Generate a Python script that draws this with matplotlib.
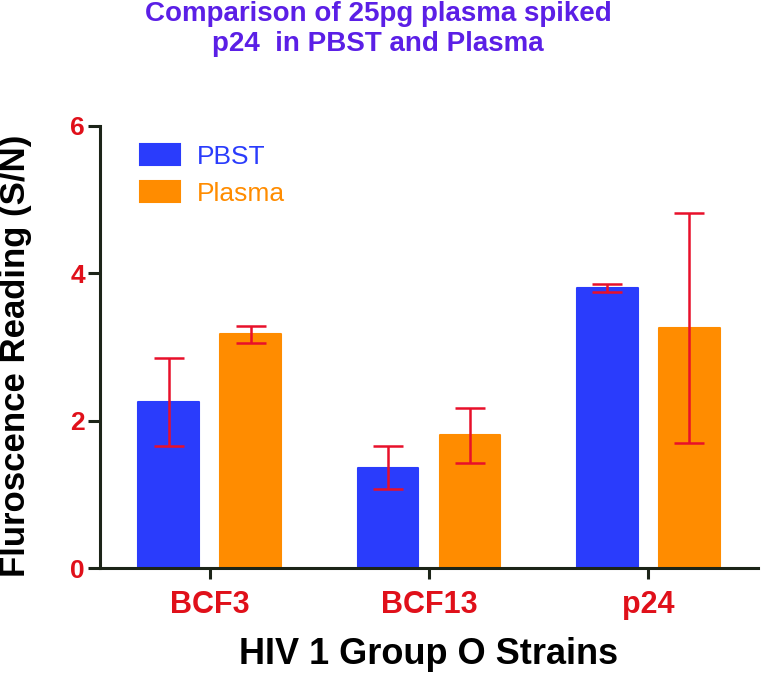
import numpy as np
import matplotlib.pyplot as plt

plt.rcParams['font.family'] = ['Liberation Sans', 'DejaVu Sans']

# data
strains = ['BCF3', 'BCF13', 'p24']
pbst_mean = [2.25, 1.36, 3.80]
pbst_err = [0.60, 0.29, 0.06]
plasma_mean = [3.17, 1.80, 3.26]
plasma_err = [0.11, 0.37, 1.56]

blue = '#2a3cfc'
orange = '#ff8c00'
red = '#e8102a'
axis_col = '#1c2418'

fig = plt.figure(figsize=(7.64, 6.73), dpi=100)
ax = fig.add_axes([0.131, 0.156, 0.861, 0.657])

x = np.arange(len(strains))
w = 0.277
off = 0.187

ekw = dict(ecolor=red, elinewidth=1.8, capsize=10.5, capthick=1.8)
ax.bar(x - off, pbst_mean, w, color=blue, edgecolor=blue, linewidth=1.5,
       joinstyle='round', label='PBST')
ax.bar(x + off, plasma_mean, w, color=orange, edgecolor=orange, linewidth=1.5,
       joinstyle='round', label='Plasma')
ax.errorbar(x - off, pbst_mean, yerr=pbst_err, fmt='none', **ekw)
ax.errorbar(x + off, plasma_mean, yerr=plasma_err, fmt='none', **ekw)

ax.set_xlim(-0.5, 2.5)
ax.set_ylim(0, 6)
ax.set_yticks([0, 2, 4, 6])
ax.set_xticks(x)
ax.set_xticklabels(strains)

for s in ['top', 'right']:
    ax.spines[s].set_visible(False)
for s in ['left', 'bottom']:
    ax.spines[s].set_linewidth(2.2)
    ax.spines[s].set_color(axis_col)

ax.tick_params(axis='y', length=9, width=2.2, color=axis_col, labelsize=19,
               labelcolor='#e0101a', pad=2)
ax.tick_params(axis='x', length=8, width=2.2, color=axis_col, labelsize=22,
               labelcolor='#e0101a', pad=8)
for lab in ax.get_xticklabels() + ax.get_yticklabels():
    lab.set_fontweight('bold')

ax.set_xlabel('HIV 1 Group O Strains', fontsize=26, fontweight='bold', labelpad=12)
ax.set_ylabel('Fluroscence Reading (S/N)', fontsize=25, fontweight='bold')
ax.yaxis.set_label_coords(-0.104, 0.48)

leg = ax.legend(loc='upper left', bbox_to_anchor=(0.061, 0.958), frameon=False,
                fontsize=19, handlelength=1.5, handleheight=0.8, handletextpad=0.65,
                labelspacing=0.48, borderpad=0, borderaxespad=0)
for txt, c in zip(leg.get_texts(), [blue, orange]):
    txt.set_color(c)

fig.text(0.495, 0.998, 'Comparison of 25pg plasma spiked\np24  in PBST and Plasma',
         ha='center', va='top', fontsize=20, fontweight='bold', color='#5b1fe6',
         linespacing=1.2)

fig.savefig('out.png', dpi=100)
